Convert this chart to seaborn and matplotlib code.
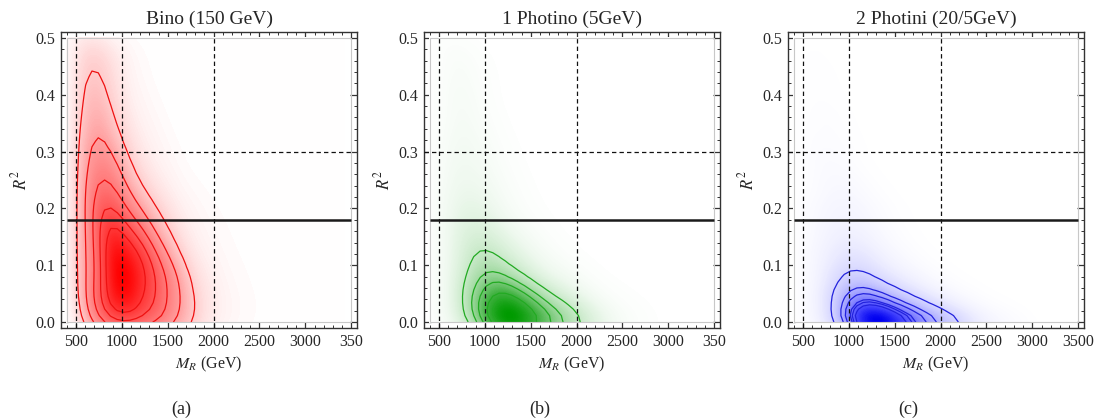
import numpy as np
import pandas as pd
import matplotlib
matplotlib.use("Agg")
import matplotlib.pyplot as plt
import seaborn as sns
from matplotlib.patches import Rectangle
from matplotlib.ticker import MultipleLocator, FixedLocator, FormatStrFormatter

sns.set_style("ticks")
plt.rcParams["font.family"] = ["Liberation Serif", "DejaVu Serif"]
plt.rcParams["mathtext.fontset"] = "stix"

# coarse density (relative, peak = 100)
# columns: M_R = 500, 600, ..., 3000 GeV ; rows: R^2 = 0.00, 0.04, ..., 0.48
mr_grid = list(range(500, 3001, 100))
r2_grid = [0.00, 0.04, 0.08, 0.12, 0.16, 0.20, 0.24, 0.28, 0.32, 0.36, 0.40, 0.44, 0.48]

bino = [
    [5, 22, 38, 52, 58, 60, 58, 55, 52, 49, 40, 32, 22, 15, 9, 6, 4, 3, 2, 1.5, 1, 0.7, 0.5, 0.3, 0.2, 0.1],
    [8, 27, 44, 63, 83, 90, 83, 67, 58, 49, 40, 31, 22, 14, 9, 6, 4, 3, 2, 1.5, 1, 0.7, 0.5, 0.3, 0.2, 0.1],
    [10, 26, 36, 55, 86, 100, 90, 75, 65, 51, 41, 32, 18, 11, 7, 5, 3, 2, 1.5, 1, 0.7, 0.5, 0.3, 0.2, 0.1],
    [11, 28, 39, 58, 86, 88, 76, 69, 53, 40, 27, 16, 10, 6, 4, 3, 2, 1.5, 1, 0.7, 0.5, 0.3, 0.2, 0.1],
    [11, 27, 42, 62, 74, 66, 54, 45, 34, 22, 15, 10, 6, 4, 3, 2, 1.5, 1, 0.5, 0.3, 0.2, 0.1],
    [11, 28, 44, 55, 54, 45, 35, 27, 19, 13, 9, 6, 4, 3, 2, 1.5, 1, 0.5, 0.3, 0.2, 0.1],
    [10, 27, 40, 45, 41, 33, 22, 14, 10, 7, 5, 3, 2, 1.5, 1, 0.5, 0.3, 0.2, 0.1],
    [10, 25, 34, 37, 32, 22, 14, 9, 6, 4, 3, 2, 1, 0.5, 0.3, 0.2, 0.1],
    [9, 23, 29, 29, 22, 14, 9, 6, 4, 3, 2, 1, 0.5, 0.3, 0.2, 0.1],
    [9, 19, 25, 23, 15, 10, 6, 4, 3, 2, 1, 0.5, 0.3, 0.2, 0.1],
    [8, 17, 21, 17, 12, 7, 4, 3, 2, 1, 0.5, 0.3, 0.2, 0.1],
    [8, 14, 17, 14, 10, 6, 3, 2, 1, 0.5, 0.3, 0.2, 0.1],
    [7, 12, 14, 12, 8, 5, 3, 1.5, 1, 0.5, 0.3, 0.2, 0.1],
]

photino = [
    [2, 4, 8, 15, 28, 50, 80, 97, 100, 92, 80, 64, 53, 42, 33, 24, 18, 12, 8, 5, 3, 2, 1.5, 1, 0.5, 0.3],
    [2, 4, 8, 18, 30, 42, 55, 66, 60, 48, 36, 26, 17, 13, 10, 7, 5, 3, 2, 1.5, 1, 0.7, 0.5, 0.3, 0.2, 0.1],
    [2, 4, 7, 13, 20, 26, 27, 22, 17, 13, 10, 7, 5, 4, 3, 2, 1.5, 1, 0.5, 0.3, 0.2, 0.1],
    [2, 4, 7, 11, 15, 17, 15, 12, 9, 7, 5, 3, 2, 1.5, 1, 0.5, 0.3, 0.2, 0.1],
    [2, 4, 7, 9, 10, 10, 8, 6, 4, 3, 2, 1.5, 1, 0.5, 0.3, 0.2, 0.1],
    [2, 4, 6, 7, 7, 6, 5, 3, 2, 1.5, 1, 0.5, 0.3, 0.2, 0.1],
    [2, 3, 5, 5, 5, 4, 3, 2, 1.5, 1, 0.5, 0.3, 0.2, 0.1],
    [1.5, 3, 4, 4, 3.5, 3, 2, 1.5, 1, 0.5, 0.3, 0.2, 0.1],
    [1.5, 2.5, 3.5, 3.5, 3, 2, 1.5, 1, 0.5, 0.3, 0.2, 0.1],
    [1, 2, 3, 3, 2, 1.5, 1, 0.5, 0.3, 0.2, 0.1],
    [1, 2, 3, 2.5, 2, 1, 0.5, 0.3, 0.2, 0.1],
    [1, 1.5, 2.5, 2, 1.5, 1, 0.5, 0.3, 0.2, 0.1],
    [1, 1.5, 2, 1.5, 1, 0.5, 0.3, 0.2, 0.1],
]

photini = [
    [1, 2, 4, 8, 14, 28, 58, 88, 100, 90, 72, 57, 46, 36, 29, 22, 17, 14, 9, 6, 4, 3, 2, 1.5, 1, 0.5],
    [1, 2, 4, 8, 14, 22, 30, 31, 26, 21, 17, 14, 10, 8, 6, 4, 3, 2, 1.5, 1, 0.5, 0.3, 0.2, 0.1],
    [1, 2, 3, 6, 9, 12, 13, 11, 9, 7, 5, 4, 3, 2, 1.5, 1, 0.5, 0.3, 0.2, 0.1],
    [1, 2, 3, 4, 6, 7, 7, 6, 4, 3, 2, 1.5, 1, 0.5, 0.3, 0.2, 0.1],
    [1, 1.5, 2.5, 3, 4, 4, 3.5, 3, 2, 1.5, 1, 0.5, 0.3, 0.2, 0.1],
    [1, 1.5, 2, 2.5, 3, 3, 2.5, 2, 1.5, 1, 0.5, 0.3, 0.2, 0.1],
    [0.5, 1, 1.5, 2, 2, 2, 1.5, 1, 0.5, 0.3, 0.2, 0.1],
    [0.5, 1, 1.5, 1.5, 1.5, 1, 0.5, 0.3, 0.2, 0.1],
    [0.5, 1, 1, 1, 1, 0.5, 0.3, 0.2, 0.1],
    [0.5, 0.5, 1, 1, 0.5, 0.3, 0.2, 0.1],
    [0.3, 0.5, 0.5, 0.5, 0.3, 0.2, 0.1],
    [0.3, 0.5, 0.5, 0.3, 0.2, 0.1],
    [0.3, 0.3, 0.3, 0.2, 0.1],
]

panels = [bino, photino, photini]
titles = ["Bino (150 GeV)", "1 Photino (5GeV)", "2 Photini (20/5GeV)"]
captions = ["(a)", "(b)", "(c)"]
fill_colors = [["white", "#ff9a9a", "#ff4a4a", "#ff0000"],
               ["white", "#a8dca8", "#45b345", "#009a00"],
               ["white", "#a8a8ff", "#4a4aff", "#0000f0"]]
line_colors = ["#ee1111", "#22aa22", "#2222dd"]
# contour heights as fractions of the peak density
contour_fracs = [[0.16, 0.32, 0.45, 0.57, 0.68],
                 [0.22, 0.38, 0.53, 0.68, 0.82],
                 [0.16, 0.30, 0.44, 0.58, 0.72, 0.86]]

mr_cuts = [500, 1000, 2000]
r2_loose = 0.3
r2_cut = 0.18
mr_range = (400, 3500)
r2_range = (0.0, 0.5)
xticks = [500, 1000, 1500, 2000, 2500, 3000, 3500]


def to_frame(rows):
    recs = []
    for r2, row in zip(r2_grid, rows):
        for mr, w in zip(mr_grid, row):
            if w > 0:
                recs.append((mr, r2, w))
    return pd.DataFrame(recs, columns=["mr", "r2", "w"])


def mass_levels(w, fracs):
    # seaborn wants iso-proportions: mass lying below each density height
    w = np.sort(np.asarray(w, dtype=float))
    cum = np.cumsum(w) / w.sum()
    out = []
    for f in fracs:
        idx = np.searchsorted(w, f * w.max())
        out.append(cum[idx - 1] if idx > 0 else 0.001)
    return out


fig = plt.figure(figsize=(10.98, 4.19), dpi=100)
lefts = [61, 424, 788]
cap_x = [181, 540, 908]

for i, rows in enumerate(panels):
    ax = fig.add_axes([lefts[i] / 1098, 1 - 328 / 419, 296 / 1098, 296 / 419])
    df = to_frame(rows)
    cmap = sns.blend_palette(fill_colors[i], as_cmap=True)
    sns.kdeplot(data=df, x="mr", y="r2", weights="w", fill=True, levels=150, thresh=0,
                cmap=cmap, clip=(mr_range, r2_range), bw_adjust=0.55, ax=ax)
    sns.kdeplot(data=df, x="mr", y="r2", weights="w", levels=mass_levels(df["w"], contour_fracs[i]),
                colors=line_colors[i], linewidths=0.9, clip=(mr_range, r2_range),
                bw_adjust=0.55, gridsize=45, ax=ax)

    ax.set_xlim(338, 3562)
    ax.set_ylim(-0.0104, 0.5104)
    ax.add_patch(Rectangle((mr_range[0], r2_range[0]), mr_range[1] - mr_range[0],
                           r2_range[1] - r2_range[0], fill=False, ec="#c8c8c8", lw=0.8, zorder=3))
    ax.vlines(mr_cuts, -0.0104, r2_range[1], colors="#111111", lw=0.9, linestyles=(0, (3.5, 2.5)), zorder=4)
    ax.hlines(r2_loose, 338, mr_range[1], colors="#111111", lw=0.9, linestyles=(0, (3.5, 2.5)), zorder=4)
    ax.hlines(r2_cut, mr_range[0], mr_range[1], colors="#1a1a1a", lw=1.8, zorder=4)

    ax.xaxis.set_major_locator(FixedLocator(xticks))
    labels = [str(t) for t in xticks]
    if i < 2:
        labels[-1] = "350"
    ax.set_xticklabels(labels)
    ax.xaxis.set_minor_locator(MultipleLocator(100))
    ax.yaxis.set_major_locator(MultipleLocator(0.1))
    ax.yaxis.set_minor_locator(MultipleLocator(0.02))
    ax.yaxis.set_major_formatter(FormatStrFormatter("%.1f"))
    ax.tick_params(which="both", direction="in", top=True, right=True, color="#333333")
    ax.tick_params(which="major", length=5, width=0.9, labelsize=11.5, pad=4)
    ax.tick_params(which="minor", length=2.5, width=0.7)
    for s in ax.spines.values():
        s.set_linewidth(1.0)
        s.set_color("#333333")

    ax.set_xlabel("$M_R$ (GeV)", fontsize=11.5, labelpad=4)
    ax.set_ylabel("$R^2$", fontsize=12, labelpad=4)
    ax.set_title(titles[i], fontsize=14, pad=6)
    fig.text(cap_x[i] / 1098, 10 / 419, captions[i], ha="center", va="center", fontsize=13)

fig.savefig("out.png", dpi=100)
